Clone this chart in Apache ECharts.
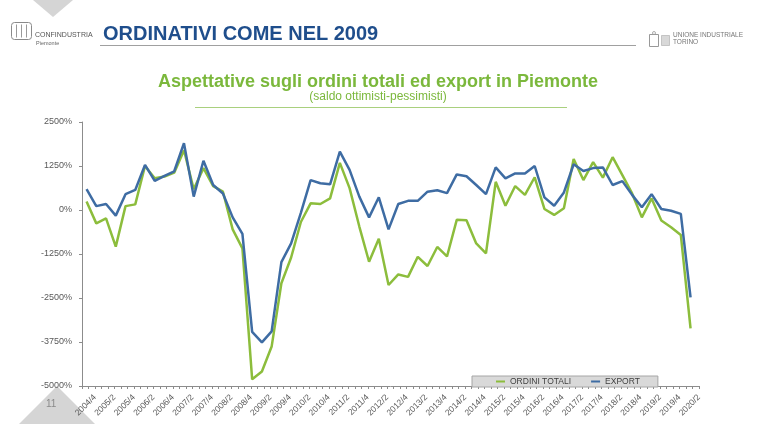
<!DOCTYPE html>
<html>
<head>
<meta charset="utf-8">
<script src="https://cdn.jsdelivr.net/npm/echarts@6/dist/echarts.min.js"></script>
<style>
html,body{margin:0;padding:0;background:#fff;}
#c{width:768px;height:424px;}
</style>
</head>
<body>
<div id="c"></div>
<script>
// Quarterly categories
const categories = [
 '2004/4',
 '2005/1','2005/2','2005/3','2005/4',
 '2006/1','2006/2','2006/3','2006/4',
 '2007/1','2007/2','2007/3','2007/4',
 '2008/1','2008/2','2008/3','2008/4',
 '2009/1','2009/2','2009/3','2009/4',
 '2010/1','2010/2','2010/3','2010/4',
 '2011/1','2011/2','2011/3','2011/4',
 '2012/1','2012/2','2012/3','2012/4',
 '2013/1','2013/2','2013/3','2013/4',
 '2014/1','2014/2','2014/3','2014/4',
 '2015/1','2015/2','2015/3','2015/4',
 '2016/1','2016/2','2016/3','2016/4',
 '2017/1','2017/2','2017/3','2017/4',
 '2018/1','2018/2','2018/3','2018/4',
 '2019/1','2019/2','2019/3','2019/4',
 '2020/1','2020/2'
];

// ORDINI TOTALI (saldo, shown as %)
const ordiniTotali = [
 240, -380, -240, -1040, 110, 160, 1250, 900, 950, 1060,
 1700, 590, 1190, 680, 520, -550, -1090, -4810, -4590, -3880,
 -2080, -1350, -340, 190, 170, 330, 1340, 620, -470, -1470,
 -820, -2130, -1830, -1900, -1330, -1590, -1050, -1320, -280, -290,
 -950, -1230, 800, 120, 680, 430, 930, 30, -140, 50,
 1450, 850, 1360, 920, 1500, 990, 470, -210, 330, -300,
 -490, -710, -3360
];

// EXPORT (saldo, shown as %)
const exportVals = [
 590, 110, 170, -160, 450, 570, 1280, 830, 970, 1100,
 1900, 380, 1400, 710, 470, -210, -680, -3460, -3760, -3450,
 -1480, -950, -80, 850, 760, 730, 1660, 1140, 380, -210,
 360, -550, 170, 260, 260, 520, 560, 480, 1010, 960,
 710, 450, 1210, 900, 1040, 1040, 1250, 360, 120, 500,
 1300, 1110, 1190, 1210, 710, 820, 430, 80, 450, 30,
 -20, -110, -2480
];

// Y axis ticks
const yMin = -5000, yMax = 2500, yStep = 1250;

// x axis in months (ticks every 2 months, labels every 6 months)
const X_START = 0, X_END = 190, MONTHS_PER_Q = 3, DATA_OFFSET = 1.4, LABEL_OFFSET = 4;

const toPoints = arr => arr.map((v, i) => [DATA_OFFSET + MONTHS_PER_Q * i, v]);

const chart = echarts.init(document.getElementById('c'), null, {renderer: 'canvas'});

const gray = '#8c8c8c';
const green = '#8cbd3c';
const blue = '#3e6ca3';
const FONT = 'Liberation Sans';

chart.setOption({
  animation: false,
  backgroundColor: '#ffffff',
  textStyle: {fontFamily: FONT},
  grid: {left: 82, top: 122, width: 617, height: 264, containLabel: false},
  legend: {
    left: 472, top: 376,
    orient: 'horizontal',
    backgroundColor: '#d9d9d9',
    borderColor: '#a6a6a6',
    borderWidth: 1,
    borderRadius: 0,
    padding: [1, 18, 1, 24],
    itemGap: 20,
    itemWidth: 9,
    itemHeight: 2,
    icon: 'rect',
    textStyle: {fontSize: 8.5, color: '#404040', fontFamily: FONT, padding: [1, 0, 0, 0]},
    data: ['ORDINI TOTALI', 'EXPORT']
  },
  xAxis: {
    type: 'value',
    min: X_START, max: X_END, interval: 2,
    axisLine: {show: true, onZero: false, lineStyle: {color: gray, width: 1}},
    axisTick: {show: true, length: 3, lineStyle: {color: gray}},
    splitLine: {show: false},
    axisLabel: {
      show: true, rotate: 45, fontSize: 8.5, color: '#595959', margin: 10,
      showMinLabel: true, showMaxLabel: true,
      formatter: v => {
        const d = v - LABEL_OFFSET;
        if (d < 0 || d % (2 * MONTHS_PER_Q) !== 0) return '';
        return categories[d / MONTHS_PER_Q] || '';
      }
    }
  },
  yAxis: {
    type: 'value',
    min: yMin, max: yMax, interval: yStep,
    axisLine: {show: true, lineStyle: {color: gray, width: 1}},
    axisTick: {show: true, length: 3, lineStyle: {color: gray}},
    splitLine: {show: false},
    axisLabel: {fontSize: 9, color: '#595959', margin: 10, formatter: v => v + '%'}
  },
  series: [
    {
      name: 'ORDINI TOTALI', type: 'line', data: toPoints(ordiniTotali),
      showSymbol: false, symbol: 'none', color: green,
      lineStyle: {width: 2.5, color: green}
    },
    {
      name: 'EXPORT', type: 'line', data: toPoints(exportVals),
      showSymbol: false, symbol: 'none', color: blue,
      lineStyle: {width: 2.5, color: blue}
    }
  ],
  graphic: [
    {type: 'polygon', shape: {points: [[33, 0], [73, 0], [53, 17]]}, style: {fill: '#d5d5d5'}, silent: true},
    {type: 'polygon', shape: {points: [[19, 424], [57, 386], [95, 424]]}, style: {fill: '#d5d5d5'}, silent: true},
    {type: 'text', left: 46, top: 399, style: {text: '11', fill: '#8a8a8a', fontSize: 10, fontFamily: FONT}},
    // Confindustria logo (simplified)
    {type: 'group', left: 9, top: 20, children: [
      {type: 'rect', shape: {x: 0, y: 0, width: 20, height: 17, r: 3}, style: {fill: 'none', stroke: '#8a8a8a', lineWidth: 1}},
      {type: 'line', shape: {x1: 5, y1: 2, x2: 5, y2: 15}, style: {stroke: '#9a9a9a', lineWidth: 1}},
      {type: 'line', shape: {x1: 10, y1: 2, x2: 10, y2: 15}, style: {stroke: '#9a9a9a', lineWidth: 1}},
      {type: 'line', shape: {x1: 15, y1: 2, x2: 15, y2: 15}, style: {stroke: '#9a9a9a', lineWidth: 1}}
    ]},
    {type: 'text', left: 35, top: 32, style: {text: 'CONFINDUSTRIA', fill: '#555', fontSize: 7, fontFamily: FONT}},
    {type: 'text', left: 36, top: 40, style: {text: 'Piemonte', fill: '#666', fontSize: 5.5, fontFamily: FONT}},
    {type: 'text', left: 103, top: 24, style: {text: 'ORDINATIVI COME NEL 2009', fill: '#1f4e8c', fontSize: 20, fontWeight: 'bold', fontFamily: FONT}},
    {type: 'line', shape: {x1: 100, y1: 45.5, x2: 636, y2: 45.5}, style: {stroke: '#a0a0a0', lineWidth: 1.2}},
    // Unione Industriale logo (simplified)
    {type: 'group', left: 647, top: 29, children: [
      {type: 'rect', shape: {x: 0, y: 3, width: 9, height: 12}, style: {fill: 'none', stroke: '#999', lineWidth: 1}},
      {type: 'circle', shape: {cx: 4.5, cy: 1.5, r: 1.5}, style: {fill: 'none', stroke: '#999', lineWidth: 0.8}},
      {type: 'rect', shape: {x: 12, y: 4, width: 8, height: 10}, style: {fill: '#d8d8d8', stroke: '#aaa', lineWidth: 0.6}}
    ]},
    {type: 'text', left: 673, top: 32, style: {text: 'UNIONE INDUSTRIALE', fill: '#777', fontSize: 6.5, fontFamily: FONT}},
    {type: 'text', left: 673, top: 39, style: {text: 'TORINO', fill: '#777', fontSize: 6.5, fontFamily: FONT}},
    // Chart title
    {type: 'text', x: 378, y: 82, style: {text: 'Aspettative sugli ordini totali ed export in Piemonte', fill: '#7bb83c', fontSize: 18, fontWeight: 'bold', fontFamily: FONT, align: 'center', verticalAlign: 'middle'}},
    {type: 'text', x: 378, y: 97, style: {text: '(saldo ottimisti-pessimisti)', fill: '#7bb83c', fontSize: 12, fontFamily: FONT, align: 'center', verticalAlign: 'middle'}},
    {type: 'line', shape: {x1: 195, y1: 107.5, x2: 567, y2: 107.5}, style: {stroke: '#a9d07e', lineWidth: 1}}
  ]
});
</script>
</body>
</html>
